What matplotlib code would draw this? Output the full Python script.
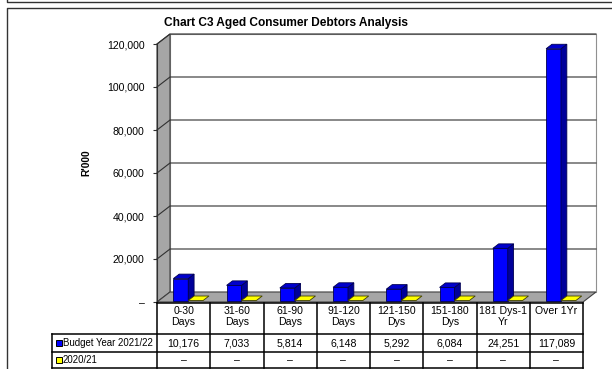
import matplotlib
matplotlib.use('Agg')
import matplotlib.pyplot as plt
from matplotlib.patches import Polygon, Rectangle

# data
categories = ['0-30\nDays', '31-60\nDays', '61-90\nDays', '91-120\nDays',
              '121-150\nDys', '151-180\nDys', '181 Dys-1\nYr', 'Over 1Yr']
budget = [10176, 7033, 5814, 6148, 5292, 6084, 24251, 117089]
prior = [0, 0, 0, 0, 0, 0, 0, 0]
series_names = ['Budget Year 2021/22', '2020/21']
yticks = [0, 20000, 40000, 60000, 80000, 100000, 120000]

plt.rcParams['font.family'] = ['Liberation Sans', 'DejaVu Sans']

W, H = 612, 369
fig = plt.figure(figsize=(W / 100, H / 100), dpi=100)

def fr(px, py):
    return px / W, 1 - py / H

# outer frames
frame = fig.add_axes([0, 0, 1, 1])
frame.set_xlim(0, W)
frame.set_ylim(H, 0)
frame.axis('off')
frame.plot([7, 7, 612], [0, 2, 2], color='#333333', lw=1)
frame.plot([7, 7, 612], [369, 8, 8], color='#333333', lw=1)

n = len(categories)
ymax = 120000
ax = fig.add_axes([157 / W, 1 - 302 / H, 426 / W, 258 / H])
ax.set_xlim(0, n)
ax.set_ylim(0, ymax)
dx = 13 / 426 * n
dy = 10 / 258 * ymax

# walls
ax.add_patch(Polygon([(0, 0), (0, ymax), (dx, ymax + dy), (dx, dy)],
                     fc='#a6a6a6', ec='#404040', lw=0.8, clip_on=False, zorder=1))
ax.add_patch(Polygon([(0, 0), (n, 0), (n + dx, dy), (dx, dy)],
                     fc='#a6a6a6', ec='#404040', lw=0.8, clip_on=False, zorder=1))
ax.add_patch(Rectangle((dx, dy), n, ymax, fc='white', ec='#909090', lw=0.8,
                       clip_on=False, zorder=0.5))
for v in yticks[1:]:
    ax.plot([0, dx, n + dx], [v, v + dy, v + dy], color='#303030', lw=0.8,
            clip_on=False, zorder=1.5)

# 3d bars
f0, fd = 0.15, 0.45
ox, oy = f0 * dx, f0 * dy
bx, by = fd * dx, fd * dy
w = 0.28
for i, (a, b) in enumerate(zip(budget, prior)):
    x0 = i + 0.27 + ox
    ax.add_patch(Rectangle((x0, oy), w, a, fc='#0000ff', ec='#000050', lw=0.6,
                           clip_on=False, zorder=3))
    ax.add_patch(Polygon([(x0 + w, oy), (x0 + w, a + oy), (x0 + w + bx, a + oy + by),
                          (x0 + w + bx, oy + by)], fc='#00009a', ec='#000050',
                         lw=0.6, clip_on=False, zorder=3))
    ax.add_patch(Polygon([(x0, a + oy), (x0 + w, a + oy), (x0 + w + bx, a + oy + by),
                          (x0 + bx, a + oy + by)], fc='#0000cc', ec='#000050',
                         lw=0.6, clip_on=False, zorder=3))
    x1 = x0 + w
    ax.add_patch(Polygon([(x1, b + oy), (x1 + w, b + oy), (x1 + w + bx, b + oy + by),
                          (x1 + bx, b + oy + by)], fc='#ffff00', ec='#404000',
                         lw=0.6, clip_on=False, zorder=3))

for s in ['top', 'right', 'bottom']:
    ax.spines[s].set_visible(False)
ax.spines['left'].set_color('#303030')
ax.spines['left'].set_linewidth(0.8)
ax.set_xticks([])
ax.set_yticks(yticks)
ax.set_yticklabels(['–' if v == 0 else f'{v:,}' for v in yticks])
ax.tick_params(axis='y', length=3, pad=6, labelsize=7.6, color='#303030')
ax.patch.set_visible(False)

fig.text(*fr(86, 163), "R'000", rotation=90, ha='center', va='center',
         fontsize=7.4, fontweight='bold')
fig.text(*fr(286, 23), 'Chart C3 Aged Consumer Debtors Analysis', ha='center',
         va='center', fontsize=8.6, fontweight='bold')

# data table
cw = 53.25
xl = -105 / cw
tax = fig.add_axes([52 / W, 0, (583 - 52) / W, 67 / H])
tax.set_xlim(xl, n)
tax.set_ylim(67, 0)
tax.axis('off')
lk = dict(color='black', lw=1.1, clip_on=False)
tax.plot([0, n], [1, 1], **lk)
for i in range(n + 1):
    tax.plot([i, i], [1, 66], **lk)
tax.plot([xl, xl], [32, 66], **lk)
for yy in [32, 50, 66]:
    tax.plot([xl, n], [yy, yy], **lk)
fs = 7.6
for i, c in enumerate(categories):
    tax.text(i + 0.5, 4.5, c, ha='center', va='top', fontsize=fs, linespacing=1.1)
    tax.text(i + 0.5, 41, f'{budget[i]:,}', ha='center', va='center', fontsize=fs)
    tax.text(i + 0.5, 58, '–' if prior[i] == 0 else f'{prior[i]:,}',
             ha='center', va='center', fontsize=fs)
kx = xl + 3.5 / cw
for row, (name, col) in enumerate(zip(series_names, ['#0000ff', '#ffff00'])):
    yc = 41 + row * 17
    tax.add_patch(Rectangle((kx, yc - 3), 6 / cw, 6, fc=col, ec='black', lw=0.7,
                            clip_on=False))
    tax.text(kx + 7.5 / cw, yc, name, ha='left', va='center', fontsize=6.9)

fig.savefig('out.png', dpi=100)
